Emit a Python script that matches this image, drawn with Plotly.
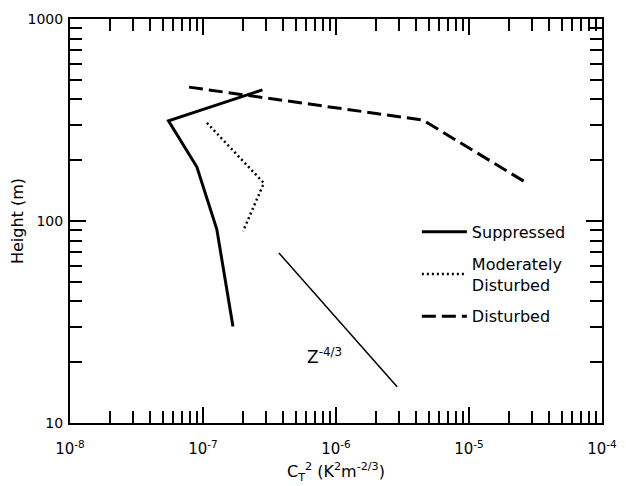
import plotly.graph_objects as go

# Data
supp_x = [2.8e-7, 5.5e-8, 9.0e-8, 1.27e-7, 1.68e-7]
supp_y = [446, 313, 185, 91, 30]

mod_x = [1.07e-7, 2.87e-7, 2.0e-7]
mod_y = [306, 154, 89]

dist_x = [7.85e-8, 4.5e-6, 2.64e-5]
dist_y = [460, 316, 156]

ref_x = [3.72e-7, 2.88e-6]
ref_y = [69.5, 15.1]

x_tickvals = [1e-8, 1e-7, 1e-6, 1e-5, 1e-4]
x_ticktext = ["10<sup>-8</sup>", "10<sup>-7</sup>", "10<sup>-6</sup>", "10<sup>-5</sup>", "10<sup>-4</sup>"]
y_tickvals = [10, 100, 1000]
y_ticktext = ["10", "100", "1000"]

x_minor = [m * 10.0 ** e for e in range(-8, -4) for m in range(2, 10)]
y_minor = [m * 10.0 ** e for e in range(1, 3) for m in range(2, 10)]

FONT = "DejaVu Sans"

fig = go.Figure()
fig.add_trace(go.Scatter(x=supp_x, y=supp_y, mode="lines", name="Suppressed",
                         legendgroup="a",
                         line=dict(color="black", width=3)))
fig.add_trace(go.Scatter(x=mod_x, y=mod_y, mode="lines", name="Moderately<br>Disturbed",
                         legendgroup="b",
                         line=dict(color="black", width=2.5, dash="2px,3px")))
fig.add_trace(go.Scatter(x=dist_x, y=dist_y, mode="lines", name="Disturbed",
                         legendgroup="c",
                         line=dict(color="black", width=3, dash="14px,6px")))
fig.add_trace(go.Scatter(x=ref_x, y=ref_y, mode="lines", showlegend=False,
                         line=dict(color="black", width=1.5)))

fig.add_annotation(x=-6.23, y=1.33, xref="x", yref="y", text="Z<sup>-4/3</sup>",
                   xanchor="left", yanchor="middle",
                   showarrow=False, font=dict(size=17, color="black", family=FONT))

axis_common = dict(
    type="log", showline=True, linecolor="black", linewidth=2, mirror="ticks",
    ticks="inside", tickcolor="black", tickwidth=1.5, ticklen=16,
    showgrid=False, zeroline=False, automargin=False,
)

fig.update_xaxes(**axis_common, range=[-8, -4], tickvals=x_tickvals, ticktext=x_ticktext,
                 ticklabelstandoff=11,
                 tickfont=dict(size=15, color="black", family=FONT),
                 minor=dict(tickvals=x_minor, ticks="inside", ticklen=12, tickcolor="black",
                            tickwidth=1.5, showgrid=False),
                 title=dict(text="C<sub>T</sub><sup>2</sup> (K<sup>2</sup>m<sup>-2/3</sup>)",
                            font=dict(size=16, color="black", family=FONT), standoff=9))
fig.update_yaxes(**axis_common, range=[1, 3], tickvals=y_tickvals, ticktext=y_ticktext,
                 ticklabelstandoff=2,
                 tickfont=dict(size=14, color="black", family=FONT),
                 minor=dict(tickvals=y_minor, ticks="inside", ticklen=12, tickcolor="black",
                            tickwidth=1.5, showgrid=False),
                 title=dict(text="Height (m)", font=dict(size=16, color="black", family=FONT),
                            standoff=0))

fig.update_layout(
    width=626, height=486,
    margin=dict(l=70, r=24, t=19, b=63),
    paper_bgcolor="white", plot_bgcolor="white",
    font=dict(family=FONT, color="black"),
    legend=dict(x=0.652, y=0.515, xanchor="left", yanchor="top",
                bgcolor="rgba(0,0,0,0)", itemwidth=45, tracegroupgap=8,
                traceorder="grouped",
                font=dict(size=16, color="black", family=FONT)),
)

fig.write_html("out.html")
